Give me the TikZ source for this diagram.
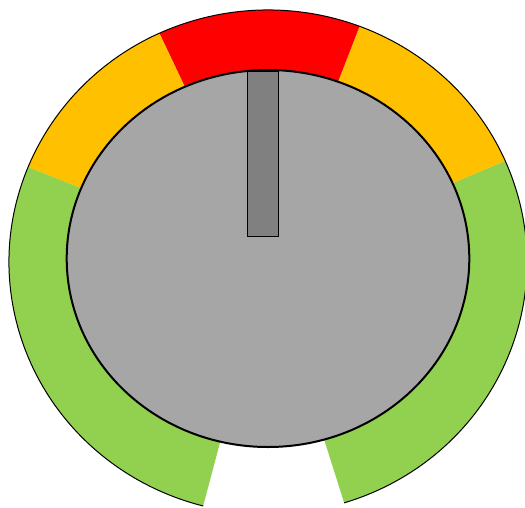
\documentclass[tikz,border=0pt]{standalone}
\definecolor{gaugeRed}{HTML}{FF0000}
\definecolor{gaugeYellow}{HTML}{FFC000}
\definecolor{gaugeGreen}{HTML}{92D050}
\definecolor{dialGray}{HTML}{A6A6A6}
\definecolor{needleGray}{HTML}{808080}
\begin{document}
\begin{tikzpicture}[x=1pt,y=1pt,
  rimline/.style={draw=black,line width=1pt},
  dialface/.style={draw=black,line width=2pt,fill=dialGray},
  needlebar/.style={draw=black,line width=1.8pt,fill=needleGray}]
\useasboundingbox (0,-507) rectangle (525,0);
\clip (0,-507) rectangle (525,0);
\coordinate (C) at (268,-262);
\newcommand\gaugeseg[3]{%
  \fill[#3] (C) -- ++(#1:259 and 252) arc[start angle=#1, end angle=#2, x radius=259, y radius=252] -- cycle;}
\gaugeseg{-72.9}{23.7}{gaugeGreen}
\gaugeseg{23.7}{69.3}{gaugeYellow}
\gaugeseg{69.3}{114.8}{gaugeRed}
\gaugeseg{114.8}{157.9}{gaugeYellow}
\gaugeseg{157.9}{255.5}{gaugeGreen}
\draw[rimline] (C) ++(-72.9:259 and 252) arc[start angle=-72.9, end angle=255.5, x radius=259, y radius=252];
\draw[dialface] (268,-258.5) ellipse [x radius=201.3, y radius=188.5];
\draw[needlebar] (247.5,-71) rectangle (278.5,-236.5);
\end{tikzpicture}
\end{document}
